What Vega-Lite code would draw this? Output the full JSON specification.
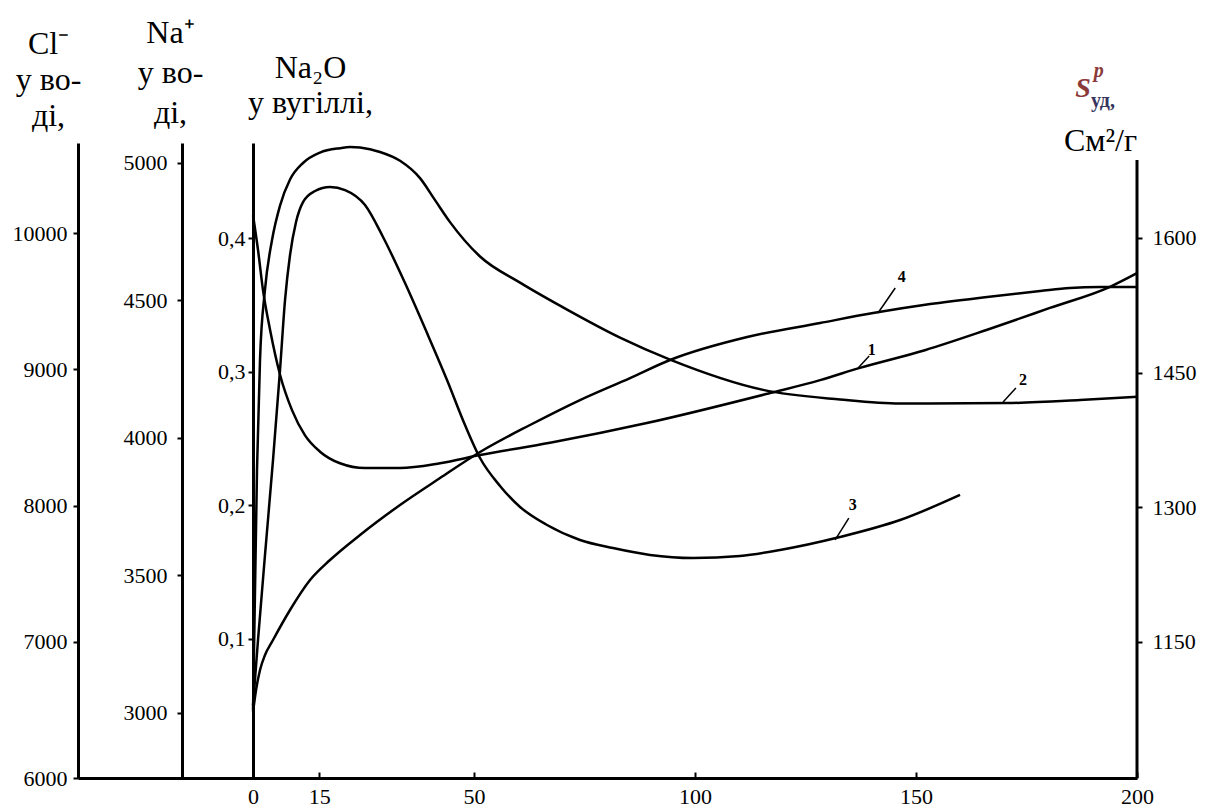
{
  "$schema": "https://vega.github.io/schema/vega-lite/v6.json",
  "width": 1059,
  "height": 635,
  "autosize": {"type": "none"},
  "padding": {"left": 78, "top": 143, "right": 71, "bottom": 30},
  "background": "white",
  "config": {
    "view": {"stroke": null},
    "font": "Liberation Serif",
    "axis": {
      "domainColor": "black", "tickColor": "black", "labelColor": "black", "titleColor": "black",
      "grid": false, "labelFont": "Liberation Serif", "titleFont": "Liberation Serif",
      "labelFontSize": 22, "domainWidth": 3, "tickWidth": 2, "tickSize": 5,
      "titleFontWeight": "normal", "titleFontSize": 32
    },
    "axisBottom": {"tickSize": -6, "labelPadding": 14}
  },
  "resolve": {"scale": {"y": "independent"}, "axis": {"y": "independent"}},
  "layer": [
    {
      "data": {"values": [
        {"time": 0, "cl": 10130}, {"time": 1.13, "cl": 9875}, {"time": 2.26, "cl": 9580},
        {"time": 3.85, "cl": 9290}, {"time": 6.11, "cl": 8960}, {"time": 8.82, "cl": 8700},
        {"time": 11.76, "cl": 8515}, {"time": 15.16, "cl": 8395}, {"time": 19.68, "cl": 8310},
        {"time": 25.34, "cl": 8275}, {"time": 33.26, "cl": 8275}, {"time": 42.31, "cl": 8310},
        {"time": 51.36, "cl": 8370}, {"time": 67.2, "cl": 8460}, {"time": 89.1, "cl": 8605},
        {"time": 116.97, "cl": 8825}, {"time": 128.3, "cl": 8920}, {"time": 137.3, "cl": 9010},
        {"time": 152.0, "cl": 9140}, {"time": 166.1, "cl": 9290}, {"time": 180.3, "cl": 9450},
        {"time": 193.9, "cl": 9605}, {"time": 200, "cl": 9705}
      ]},
      "mark": {"type": "line", "color": "black", "strokeWidth": 2.5, "interpolate": "monotone"},
      "encoding": {
        "x": {"field": "time", "type": "quantitative",
              "scale": {"domain": [-39.6, 200], "nice": false, "zero": false},
              "axis": {"orient": "bottom", "values": [0, 15, 50, 100, 150, 200], "format": "d",
                       "labelFlush": false, "title": null}},
        "y": {"field": "cl", "type": "quantitative",
              "scale": {"domain": [6000, 10660.6], "nice": false, "zero": false},
              "axis": {"orient": "left", "offset": 0, "values": [6000, 7000, 8000, 9000, 10000],
                       "format": "d", "labelPadding": 6,
                       "title": ["Cl⁻", "у во-", "ді,"], "titleAngle": 0, "titleAlign": "center",
                       "titleBaseline": "alphabetic", "titleX": -30, "titleY": -90, "titleLineHeight": 36}}
      }
    },
    {
      "data": {"values": [
        {"time": 0, "na": 3010}, {"time": 0.9, "na": 3885}, {"time": 1.58, "na": 4285},
        {"time": 2.71, "na": 4540}, {"time": 4.3, "na": 4720}, {"time": 6.11, "na": 4845},
        {"time": 8.37, "na": 4940}, {"time": 11.31, "na": 5000}, {"time": 15.16, "na": 5038},
        {"time": 19.68, "na": 5054}, {"time": 22.0, "na": 5058}, {"time": 24.21, "na": 5056}, {"time": 28.73, "na": 5040},
        {"time": 33.26, "na": 5008}, {"time": 37.78, "na": 4945}, {"time": 41.18, "na": 4865},
        {"time": 44.57, "na": 4785}, {"time": 51.36, "na": 4660}, {"time": 60.41, "na": 4565},
        {"time": 70.14, "na": 4475}, {"time": 83.03, "na": 4365}, {"time": 94.35, "na": 4285},
        {"time": 115.4, "na": 4175}, {"time": 132.8, "na": 4140}, {"time": 146.4, "na": 4125},
        {"time": 170.6, "na": 4127}, {"time": 187.1, "na": 4138}, {"time": 200, "na": 4150}
      ]},
      "mark": {"type": "line", "color": "black", "strokeWidth": 2.5, "interpolate": "monotone"},
      "encoding": {
        "x": {"field": "time", "type": "quantitative",
              "scale": {"domain": [-39.6, 200], "nice": false, "zero": false},
              "axis": {"orient": "bottom", "values": [0, 15, 50, 100, 150, 200], "format": "d",
                       "labelFlush": false, "title": null}},
        "y": {"field": "na", "type": "quantitative",
              "scale": {"domain": [2763.6, 5072.7], "nice": false, "zero": false},
              "axis": {"orient": "left", "offset": -104, "values": [3000, 3500, 4000, 4500, 5000],
                       "format": "d", "labelPadding": 10,
                       "title": ["Na⁺", "у во-", "ді,"], "titleAngle": 0, "titleAlign": "center",
                       "titleBaseline": "alphabetic", "titleX": -12, "titleY": -101, "titleLineHeight": 40}}
      }
    },
    {
      "data": {"values": [
        {"time": 0, "na2o": 0.0506}, {"time": 1.13, "na2o": 0.0993}, {"time": 2.71, "na2o": 0.1629},
        {"time": 4.52, "na2o": 0.2339}, {"time": 6.11, "na2o": 0.3013}, {"time": 7.24, "na2o": 0.3536},
        {"time": 8.37, "na2o": 0.3873}, {"time": 9.73, "na2o": 0.412}, {"time": 11.31, "na2o": 0.4269},
        {"time": 14.03, "na2o": 0.4352}, {"time": 17.42, "na2o": 0.4382}, {"time": 20.82, "na2o": 0.4359},
        {"time": 25.34, "na2o": 0.4247}, {"time": 29.41, "na2o": 0.4008}, {"time": 34.39, "na2o": 0.3663},
        {"time": 39.37, "na2o": 0.3289}, {"time": 43.89, "na2o": 0.2938}, {"time": 47.96, "na2o": 0.2601},
        {"time": 51.36, "na2o": 0.2354}, {"time": 55.88, "na2o": 0.2145}, {"time": 60.41, "na2o": 0.1988},
        {"time": 66.52, "na2o": 0.1853}, {"time": 73.98, "na2o": 0.1741}, {"time": 81.45, "na2o": 0.1681},
        {"time": 89.82, "na2o": 0.1629}, {"time": 99.55, "na2o": 0.1606}, {"time": 110.18, "na2o": 0.1621},
        {"time": 119.23, "na2o": 0.1666}, {"time": 132.8, "na2o": 0.1763}, {"time": 146.4, "na2o": 0.189},
        {"time": 159.96, "na2o": 0.2078}
      ]},
      "mark": {"type": "line", "color": "black", "strokeWidth": 2.5, "interpolate": "monotone"},
      "encoding": {
        "x": {"field": "time", "type": "quantitative",
              "scale": {"domain": [-39.6, 200], "nice": false, "zero": false},
              "axis": {"orient": "bottom", "values": [0, 15, 50, 100, 150, 200], "format": "d",
                       "labelFlush": false, "title": null}},
        "y": {"field": "na2o", "type": "quantitative",
              "scale": {"domain": [-0.004, 0.4711], "nice": false, "zero": false},
              "axis": {"orient": "left", "offset": -175, "values": [0.1, 0.2, 0.3, 0.4],
                       "labelExpr": "replace(format(datum.value, '.1f'), '.', ',')", "labelPadding": 3,
                       "title": ["Na₂O", "у вугіллі,"], "titleAngle": 0, "titleAlign": "center",
                       "titleBaseline": "alphabetic", "titleX": 57, "titleY": -66, "titleLineHeight": 35}}
      }
    },
    {
      "data": {"values": [
        {"time": 0, "s": 1072}, {"time": 0.68, "s": 1096.5}, {"time": 1.58, "s": 1118.8},
        {"time": 2.71, "s": 1135.5}, {"time": 4.52, "s": 1152.2}, {"time": 8.37, "s": 1185.6},
        {"time": 12.9, "s": 1219}, {"time": 17.42, "s": 1241.3}, {"time": 24.21, "s": 1269.2},
        {"time": 33.26, "s": 1302.6}, {"time": 42.31, "s": 1332.6}, {"time": 51.36, "s": 1361.6},
        {"time": 62.67, "s": 1391.7}, {"time": 73.98, "s": 1419.5}, {"time": 85.3, "s": 1444},
        {"time": 94.35, "s": 1464.1}, {"time": 111.8, "s": 1489.7}, {"time": 128.3, "s": 1505.3},
        {"time": 140.3, "s": 1516.4}, {"time": 153.2, "s": 1526.5}, {"time": 166.1, "s": 1534.3},
        {"time": 178.1, "s": 1540.9}, {"time": 184.8, "s": 1544.3}, {"time": 191.6, "s": 1545.4},
        {"time": 200, "s": 1545.4}
      ]},
      "mark": {"type": "line", "color": "black", "strokeWidth": 2.5, "interpolate": "monotone"},
      "encoding": {
        "x": {"field": "time", "type": "quantitative",
              "scale": {"domain": [-39.6, 200], "nice": false, "zero": false},
              "axis": {"orient": "bottom", "values": [0, 15, 50, 100, 150, 200], "format": "d",
                       "labelFlush": false, "title": null}},
        "y": {"field": "s", "type": "quantitative",
              "scale": {"domain": [998.5, 1705.8], "nice": false, "zero": false},
              "axis": {"orient": "right", "offset": 0, "values": [1150, 1300, 1450, 1600],
                       "format": "d", "labelPadding": 10, "domain": false,
                       "title": "См²/г", "titleAngle": 0, "titleAlign": "center",
                       "titleBaseline": "alphabetic", "titleX": -37, "titleY": 7}}
      }
    },
    {
      "data": {"values": [{"time": 136.9, "cl": 9009, "time2": 139.4, "cl2": 9097}]},
      "mark": {"type": "rule", "color": "black", "strokeWidth": 1.5},
      "encoding": {
        "x": {"field": "time", "type": "quantitative",
              "scale": {"domain": [-39.6, 200], "nice": false, "zero": false},
              "axis": {"orient": "bottom", "values": [0, 15, 50, 100, 150, 200], "format": "d",
                       "labelFlush": false, "title": null}},
        "x2": {"field": "time2"},
        "y": {"field": "cl", "type": "quantitative", "scale": {"domain": [6000, 10660.6], "nice": false, "zero": false}, "axis": null},
        "y2": {"field": "cl2"}
      }
    },
    {
      "data": {"values": [{"time": 140.0, "cl": 9141, "label": "1"}]},
      "mark": {"type": "text", "color": "black", "fontSize": 16, "fontWeight": "bold", "baseline": "middle", "align": "center"},
      "encoding": {
        "x": {"field": "time", "type": "quantitative",
              "scale": {"domain": [-39.6, 200], "nice": false, "zero": false},
              "axis": {"orient": "bottom", "values": [0, 15, 50, 100, 150, 200], "format": "d",
                       "labelFlush": false, "title": null}},
        "y": {"field": "cl", "type": "quantitative", "scale": {"domain": [6000, 10660.6], "nice": false, "zero": false}, "axis": null},
        "text": {"field": "label"}
      }
    },
    {
      "data": {"values": [{"time": 169.7, "na": 4131, "time2": 172.6, "na2": 4182}]},
      "mark": {"type": "rule", "color": "black", "strokeWidth": 1.5},
      "encoding": {
        "x": {"field": "time", "type": "quantitative",
              "scale": {"domain": [-39.6, 200], "nice": false, "zero": false},
              "axis": {"orient": "bottom", "values": [0, 15, 50, 100, 150, 200], "format": "d",
                       "labelFlush": false, "title": null}},
        "x2": {"field": "time2"},
        "y": {"field": "na", "type": "quantitative", "scale": {"domain": [2763.6, 5072.7], "nice": false, "zero": false}, "axis": null},
        "y2": {"field": "na2"}
      }
    },
    {
      "data": {"values": [{"time": 174.2, "na": 4211, "label": "2"}]},
      "mark": {"type": "text", "color": "black", "fontSize": 16, "fontWeight": "bold", "baseline": "middle", "align": "center"},
      "encoding": {
        "x": {"field": "time", "type": "quantitative",
              "scale": {"domain": [-39.6, 200], "nice": false, "zero": false},
              "axis": {"orient": "bottom", "values": [0, 15, 50, 100, 150, 200], "format": "d",
                       "labelFlush": false, "title": null}},
        "y": {"field": "na", "type": "quantitative", "scale": {"domain": [2763.6, 5072.7], "nice": false, "zero": false}, "axis": null},
        "text": {"field": "label"}
      }
    },
    {
      "data": {"values": [{"time": 131.7, "na2o": 0.1741, "time2": 134.8, "na2o2": 0.1905}]},
      "mark": {"type": "rule", "color": "black", "strokeWidth": 1.5},
      "encoding": {
        "x": {"field": "time", "type": "quantitative",
              "scale": {"domain": [-39.6, 200], "nice": false, "zero": false},
              "axis": {"orient": "bottom", "values": [0, 15, 50, 100, 150, 200], "format": "d",
                       "labelFlush": false, "title": null}},
        "x2": {"field": "time2"},
        "y": {"field": "na2o", "type": "quantitative", "scale": {"domain": [-0.004, 0.4711], "nice": false, "zero": false}, "axis": null},
        "y2": {"field": "na2o2"}
      }
    },
    {
      "data": {"values": [{"time": 135.7, "na2o": 0.2003, "label": "3"}]},
      "mark": {"type": "text", "color": "black", "fontSize": 16, "fontWeight": "bold", "baseline": "middle", "align": "center"},
      "encoding": {
        "x": {"field": "time", "type": "quantitative",
              "scale": {"domain": [-39.6, 200], "nice": false, "zero": false},
              "axis": {"orient": "bottom", "values": [0, 15, 50, 100, 150, 200], "format": "d",
                       "labelFlush": false, "title": null}},
        "y": {"field": "na2o", "type": "quantitative", "scale": {"domain": [-0.004, 0.4711], "nice": false, "zero": false}, "axis": null},
        "text": {"field": "label"}
      }
    },
    {
      "data": {"values": [{"time": 141.4, "s": 1516.4, "time2": 145.3, "s2": 1544.3}]},
      "mark": {"type": "rule", "color": "black", "strokeWidth": 1.5},
      "encoding": {
        "x": {"field": "time", "type": "quantitative",
              "scale": {"domain": [-39.6, 200], "nice": false, "zero": false},
              "axis": {"orient": "bottom", "values": [0, 15, 50, 100, 150, 200], "format": "d",
                       "labelFlush": false, "title": null}},
        "x2": {"field": "time2"},
        "y": {"field": "s", "type": "quantitative", "scale": {"domain": [998.5, 1705.8], "nice": false, "zero": false}, "axis": null},
        "y2": {"field": "s2"}
      }
    },
    {
      "data": {"values": [{"time": 146.8, "s": 1556.5, "label": "4"}]},
      "mark": {"type": "text", "color": "black", "fontSize": 16, "fontWeight": "bold", "baseline": "middle", "align": "center"},
      "encoding": {
        "x": {"field": "time", "type": "quantitative",
              "scale": {"domain": [-39.6, 200], "nice": false, "zero": false},
              "axis": {"orient": "bottom", "values": [0, 15, 50, 100, 150, 200], "format": "d",
                       "labelFlush": false, "title": null}},
        "y": {"field": "s", "type": "quantitative", "scale": {"domain": [998.5, 1705.8], "nice": false, "zero": false}, "axis": null},
        "text": {"field": "label"}
      }
    },
    {
      "data": {"values": [{"time": 200, "s": 998.5, "s2": 1686.9}]},
      "mark": {"type": "rule", "color": "black", "strokeWidth": 3},
      "encoding": {
        "x": {"field": "time", "type": "quantitative",
              "scale": {"domain": [-39.6, 200], "nice": false, "zero": false},
              "axis": {"orient": "bottom", "values": [0, 15, 50, 100, 150, 200], "format": "d",
                       "labelFlush": false, "title": null}},
        "y": {"field": "s", "type": "quantitative", "scale": {"domain": [998.5, 1705.8], "nice": false, "zero": false}, "axis": null},
        "y2": {"field": "s2"}
      }
    },
    {
      "data": {"values": [{"time": 187.8, "s": 1757.0, "label": "S"}]},
      "mark": {"type": "text", "color": "#8b3a3a", "fontSize": 28, "fontStyle": "italic", "fontWeight": "bold", "baseline": "alphabetic", "align": "center"},
      "encoding": {
        "x": {"field": "time", "type": "quantitative",
              "scale": {"domain": [-39.6, 200], "nice": false, "zero": false},
              "axis": {"orient": "bottom", "values": [0, 15, 50, 100, 150, 200], "format": "d",
                       "labelFlush": false, "title": null}},
        "y": {"field": "s", "type": "quantitative", "scale": {"domain": [998.5, 1705.8], "nice": false, "zero": false}, "axis": null},
        "text": {"field": "label"}
      }
    },
    {
      "data": {"values": [{"time": 190.2, "s": 1779.0, "label": "p"}]},
      "mark": {"type": "text", "color": "#8b3a3a", "fontSize": 20, "fontStyle": "italic", "fontWeight": "bold", "baseline": "alphabetic", "align": "left"},
      "encoding": {
        "x": {"field": "time", "type": "quantitative",
              "scale": {"domain": [-39.6, 200], "nice": false, "zero": false},
              "axis": {"orient": "bottom", "values": [0, 15, 50, 100, 150, 200], "format": "d",
                       "labelFlush": false, "title": null}},
        "y": {"field": "s", "type": "quantitative", "scale": {"domain": [998.5, 1705.8], "nice": false, "zero": false}, "axis": null},
        "text": {"field": "label"}
      }
    },
    {
      "data": {"values": [{"time": 189.6, "s": 1746.0, "label": "уд,"}]},
      "mark": {"type": "text", "color": "#35355e", "fontSize": 20, "fontWeight": "bold", "baseline": "alphabetic", "align": "left"},
      "encoding": {
        "x": {"field": "time", "type": "quantitative",
              "scale": {"domain": [-39.6, 200], "nice": false, "zero": false},
              "axis": {"orient": "bottom", "values": [0, 15, 50, 100, 150, 200], "format": "d",
                       "labelFlush": false, "title": null}},
        "y": {"field": "s", "type": "quantitative", "scale": {"domain": [998.5, 1705.8], "nice": false, "zero": false}, "axis": null},
        "text": {"field": "label"}
      }
    }
  ]
}
